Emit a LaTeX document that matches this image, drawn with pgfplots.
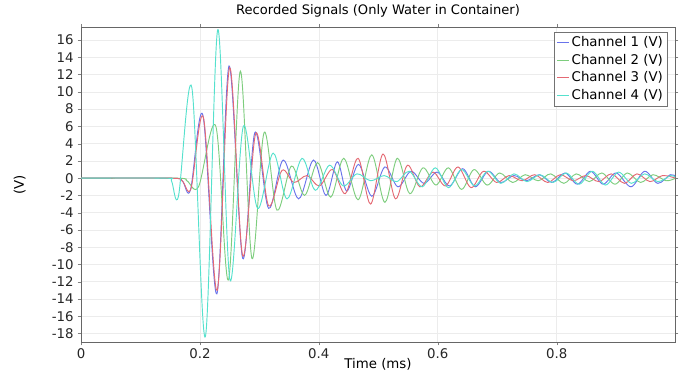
\documentclass[border=0pt]{standalone}
\usepackage{pgfplots}
\pgfplotsset{compat=1.18}
\usepackage{fontspec}
\setmainfont{DejaVu Sans}
\definecolor{cA}{RGB}{105,115,235}
\definecolor{cB}{RGB}{125,205,125}
\definecolor{cC}{RGB}{228,105,115}
\definecolor{cD}{RGB}{85,225,205}
\begin{document}
\begin{tikzpicture}
\begin{axis}[
  name=ax,
  scale only axis,
  width=445.5pt, height=236.25pt,
  xmin=0, xmax=0.999, ymin=-19, ymax=17.5,
  xtick={0,0.2,0.4,0.6,0.8},
  ytick={-18,-16,...,16},
  /pgf/number format/assume math mode=true,
  tick label style={font=\fontsize{10}{12}\selectfont, text=black!85},
  xticklabel style={/pgf/number format/fixed, yshift=1.5pt},
  yticklabel style={xshift=0.5pt},
  tick align=outside, tick pos=both,
  major tick length=2.5pt,
  grid=major, major grid style={gray!15, line width=0.4pt},
  axis line style={black!60, line width=0.5pt},
  title={Recorded Signals (Only Water in Container)},
  title style={font=\fontsize{9.8}{11}\selectfont, yshift=-2pt},
  xlabel={Time (ms)},
  xlabel style={font=\fontsize{10}{12}\selectfont, yshift=6.5pt},
  ylabel={(V)},
  every axis y label/.style={at={(axis description cs:-0.103,0.5)}, rotate=90, anchor=center, font=\fontsize{10}{12}\selectfont},
  legend style={at={(rel axis cs:0.988,0.985)}, anchor=north east, draw=black!55, font=\fontsize{10}{12}\selectfont, inner sep=1.5pt, row sep=0pt, legend cell align=left},
  legend image code/.code={\draw[#1] (0cm,0cm) -- (0.3cm,0cm);},
  every axis plot/.append style={line width=0.7pt, smooth, tension=0.55},
]
\addplot[cA] coordinates {
(0,0) (0.15,0) (0.17,-0.3) (0.184,-1.4) (0.205,7.3) (0.2285,-13.4) (0.249,13.0) (0.272,-9.3) (0.2925,5.3) (0.3155,-3.5) (0.340,2.1) (0.366,-2.4) (0.391,2.1) (0.412,-2.0) (0.431,1.9) (0.447,-1.5) (0.467,1.6) (0.489,-2.1) (0.511,1.3) (0.533,-1.0) (0.555,0.8) (0.577,-0.6) (0.599,0.7) (0.620,-0.9) (0.642,1.1) (0.663,-1.0) (0.685,0.8) (0.706,-0.5) (0.728,0.3) (0.749,-0.3) (0.771,0.4) (0.792,-0.5) (0.814,0.6) (0.835,-0.7) (0.857,0.8) (0.878,-0.7) (0.900,0.6) (0.925,-1.0) (0.948,0.8) (0.970,-0.6) (0.991,0.4) (1.0,0.2)
};
\addlegendentry{Channel 1 (V)}
\addplot[cB] coordinates {
(0,0) (0.16,0) (0.178,-0.3) (0.1976,-1.0) (0.2268,6.0) (0.248,-11.8) (0.268,12.4) (0.2875,-9.3) (0.308,5.3) (0.3295,-3.7) (0.354,1.4) (0.376,-2.0) (0.398,1.8) (0.420,-2.2) (0.442,2.3) (0.466,-2.5) (0.489,2.7) (0.511,-2.8) (0.532,2.3) (0.553,-1.8) (0.575,1.2) (0.597,-0.8) (0.618,1.2) (0.640,-1.3) (0.661,1.0) (0.683,-0.8) (0.704,0.6) (0.726,-0.5) (0.747,0.4) (0.769,-0.3) (0.790,0.5) (0.812,-0.6) (0.833,0.5) (0.855,-0.4) (0.876,0.6) (0.898,-0.7) (0.919,0.6) (0.941,-0.5) (0.962,0.4) (0.984,-0.3) (1.0,0)
};
\addlegendentry{Channel 2 (V)}
\addplot[cC] coordinates {
(0,0) (0.15,0) (0.17,-0.3) (0.185,-1.2) (0.206,7.0) (0.229,-13.0) (0.250,12.8) (0.272,-9.0) (0.294,5.2) (0.3155,-3.2) (0.338,0.9) (0.358,-0.5) (0.380,0.3) (0.401,-0.9) (0.423,1.0) (0.4445,-1.8) (0.466,2.3) (0.487,-3.0) (0.508,2.8) (0.529,-2.4) (0.549,1.5) (0.570,-1.0) (0.592,0.7) (0.613,-0.9) (0.634,1.3) (0.656,-1.1) (0.677,0.8) (0.699,-0.5) (0.720,0.3) (0.742,-0.3) (0.763,0.4) (0.785,-0.5) (0.806,0.4) (0.828,-0.3) (0.849,0.3) (0.871,-0.4) (0.892,0.5) (0.914,-0.6) (0.935,0.5) (0.957,-0.4) (0.978,0.3) (1.0,0)
};
\addlegendentry{Channel 3 (V)}
\addplot[cD] coordinates {
(0,0) (0.14,0) (0.152,-0.3) (0.164,-2.05) (0.1864,10.5) (0.209,-18.4) (0.230,17.2) (0.2505,-11.8) (0.273,6.0) (0.297,-3.5) (0.323,2.9) (0.3464,-2.4) (0.3717,2.3) (0.394,-1.4) (0.418,1.5) (0.441,-0.9) (0.464,0.5) (0.487,-0.3) (0.510,0.3) (0.531,-0.4) (0.552,0.8) (0.574,-1.0) (0.596,1.2) (0.618,-1.1) (0.640,1.0) (0.662,-0.9) (0.684,0.8) (0.706,-0.6) (0.728,0.5) (0.750,-0.4) (0.772,0.4) (0.794,-0.5) (0.816,0.6) (0.838,-0.7) (0.860,0.8) (0.882,-0.8) (0.904,0.7) (0.926,-0.6) (0.948,0.5) (0.970,-0.4) (0.992,0.3) (1.0,0.1)
};
\addlegendentry{Channel 4 (V)}
\end{axis}
\path (ax.south west) ++(-60.75pt,-24.75pt) coordinate (bl);
\path (ax.north east) ++(5.25pt,20.25pt) coordinate (tr);
\path (bl) rectangle (tr);
\end{tikzpicture}
\end{document}
